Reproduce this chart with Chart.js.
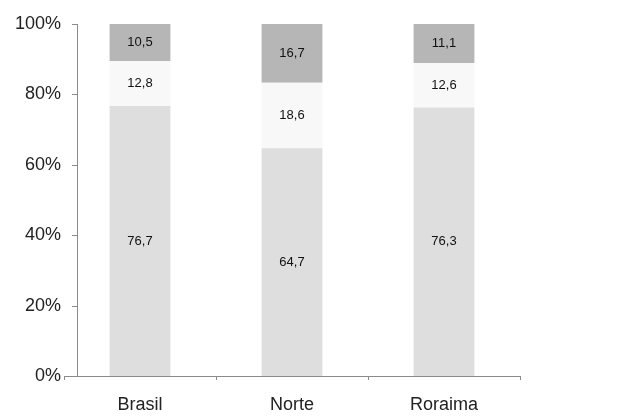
<!DOCTYPE html>
<html>
<head>
<meta charset="utf-8">
<script src="https://cdn.jsdelivr.net/npm/chart.js@4/dist/chart.umd.min.js"></script>
<style>
html,body{margin:0;padding:0;background:#fff;}
#wrap{width:628px;height:418px;}
</style>
</head>
<body>
<div id="wrap"><canvas id="c" width="628" height="418"></canvas></div>
<script>
const categories = ['Brasil', 'Norte', 'Roraima'];
const bottomValues = [76.7, 64.7, 76.3];
const middleValues = [12.8, 18.6, 12.6];
const topValues = [10.5, 16.7, 11.1];
const yTicks = [0, 20, 40, 60, 80, 100];

const FONT = '"Liberation Sans", Arial, sans-serif';

const segmentLabels = {
  id: 'segmentLabels',
  afterDatasetsDraw(chart) {
    const ctx = chart.ctx;
    ctx.save();
    ctx.font = '13px ' + FONT;
    ctx.fillStyle = '#111';
    ctx.textAlign = 'center';
    ctx.textBaseline = 'middle';
    chart.data.datasets.forEach((ds, di) => {
      const meta = chart.getDatasetMeta(di);
      meta.data.forEach((bar, i) => {
        const v = ds.data[i];
        const yc = (bar.y + bar.base) / 2;
        ctx.fillText(v.toFixed(1).replace('.', ','), bar.x, yc);
      });
    });
    ctx.restore();
  }
};

const yAxisLine = {
  id: 'yAxisLine',
  afterDraw(chart) {
    const ctx = chart.ctx;
    const y = chart.scales.y;
    const x0 = 77;
    ctx.save();
    ctx.strokeStyle = '#8a8a8a';
    ctx.lineWidth = 1;
    ctx.beginPath();
    ctx.moveTo(x0 + 0.5, y.getPixelForValue(100));
    ctx.lineTo(x0 + 0.5, y.getPixelForValue(0));
    yTicks.forEach(t => {
      const py = Math.round(y.getPixelForValue(t)) + 0.5;
      ctx.moveTo(x0 - 5, py);
      ctx.lineTo(x0 + 0.5, py);
    });
    ctx.stroke();
    ctx.restore();
  }
};

new Chart(document.getElementById('c'), {
  type: 'bar',
  data: {
    labels: categories,
    datasets: [
      { label: 'bottom', data: bottomValues, backgroundColor: '#dedede', borderWidth: 0 },
      { label: 'middle', data: middleValues, backgroundColor: '#f8f8f8', borderWidth: 0 },
      { label: 'top', data: topValues, backgroundColor: '#b6b6b6', borderWidth: 0 }
    ]
  },
  options: {
    responsive: false,
    animation: false,
    devicePixelRatio: 1,
    layout: { padding: { left: 10, right: 108, top: 24, bottom: 0 } },
    plugins: { legend: { display: false }, tooltip: { enabled: false } },
    datasets: { bar: { barPercentage: 0.4, categoryPercentage: 1.0 } },
    scales: {
      x: {
        stacked: true,
        grid: { display: true, offset: true, drawOnChartArea: false, drawTicks: true, tickLength: 4, color: '#8a8a8a' },
        border: { display: true, color: '#8a8a8a' },
        ticks: { font: { family: FONT, size: 18 }, color: '#222', padding: 14 },
        afterFit(scale) { scale.height = 42; }
      },
      y: {
        stacked: true,
        min: 0,
        max: 100,
        grid: { display: false, drawTicks: false },
        border: { display: false },
        ticks: {
          stepSize: 20,
          font: { family: FONT, size: 18 },
          color: '#222',
          padding: 3,
          callback: v => v + '%'
        },
        afterFit(scale) { scale.width = 54; }
      }
    }
  },
  plugins: [segmentLabels, yAxisLine]
});
</script>
</body>
</html>
